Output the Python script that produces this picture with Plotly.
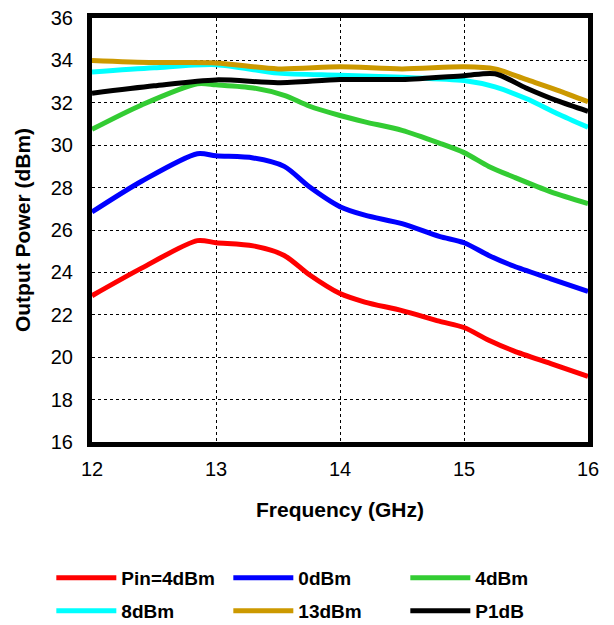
import plotly.graph_objects as go

names = ["Pin=4dBm", "0dBm", "4dBm", "8dBm", "13dBm", "P1dB"]
colors = ["#ff0000", "#0000ff", "#33cc33", "#00ffff", "#cc9900", "#000000"]

freq_a = [12.0, 12.4, 12.85, 13.0, 13.3, 13.55, 13.75, 14.0, 14.2, 14.5, 14.8, 15.0, 15.2, 15.4, 15.7, 16.0]
pin_m4 = [22.9, 24.2, 25.5, 25.4, 25.25, 24.8, 23.9, 23.0, 22.6, 22.2, 21.7, 21.4, 20.8, 20.3, 19.7, 19.1]
pin_0 = [26.85, 28.3, 29.6, 29.5, 29.4, 29.0, 28.05, 27.1, 26.7, 26.3, 25.7, 25.4, 24.8, 24.3, 23.7, 23.1]
pin_4 = [30.75, 31.9, 32.9, 32.85, 32.7, 32.35, 31.85, 31.4, 31.1, 30.7, 30.1, 29.65, 29.0, 28.5, 27.8, 27.25]

freq_b = [12.0, 12.5, 13.0, 13.5, 14.0, 14.5, 15.0, 15.25, 15.5, 15.75, 16.0]
pin_8 = [33.45, 33.65, 33.8, 33.4, 33.3, 33.2, 33.05, 32.75, 32.2, 31.5, 30.85]
pin_13 = [34.0, 33.9, 33.88, 33.6, 33.7, 33.6, 33.7, 33.6, 33.1, 32.6, 32.05]
p1db = [32.45, 32.8, 33.08, 32.95, 33.1, 33.1, 33.28, 33.37, 32.7, 32.1, 31.6]

series = [(freq_a, pin_m4), (freq_a, pin_0), (freq_a, pin_4),
          (freq_b, pin_8), (freq_b, pin_13), (freq_b, p1db)]

x_ticks = [12, 13, 14, 15, 16]
y_ticks = [16, 18, 20, 22, 24, 26, 28, 30, 32, 34, 36]

fig = go.Figure()
for i, ((xs, ys), n, c) in enumerate(zip(series, names, colors)):
    fig.add_trace(go.Scatter(x=xs, y=ys, name=n, mode="lines",
                             legend="legend" if i < 3 else "legend2",
                             line=dict(color=c, width=5, shape="spline", smoothing=0.8)))

fnt = "Liberation Sans, Arial, sans-serif"
leg_common = dict(orientation="h", x=-0.082, xanchor="left", yanchor="middle",
                  entrywidth=102, entrywidthmode="pixels", itemwidth=60,
                  font=dict(family=fnt, size=19, color="black", weight="bold"),
                  bgcolor="rgba(0,0,0,0)")
fig.update_layout(
    width=606, height=617,
    margin=dict(l=84, r=26, t=10, b=183, autoexpand=False),
    paper_bgcolor="white", plot_bgcolor="white",
    font=dict(family=fnt, color="black", size=20),
    showlegend=True,
    legend=dict(y=-0.3208, **leg_common),
    legend2=dict(y=-0.3986, **leg_common),
    xaxis=dict(range=[12, 16], tickvals=x_ticks, ticks="outside", ticklen=5,
               tickcolor="rgba(0,0,0,0)", showgrid=True, ticklabeloverflow="allow",
               gridcolor="black", griddash="dot", gridwidth=1,
               showline=True, linecolor="black", linewidth=5, mirror=True,
               zeroline=False, tickfont=dict(size=20), automargin=False,
               title=dict(text="Frequency (GHz)", font=dict(size=21, weight="bold"), standoff=25)),
    yaxis=dict(range=[16, 36], tickvals=y_ticks, ticks="outside", ticklen=10,
               tickcolor="rgba(0,0,0,0)", showgrid=True, ticklabeloverflow="allow",
               gridcolor="black", griddash="dot", gridwidth=1,
               showline=True, linecolor="black", linewidth=5, mirror=True,
               zeroline=False, tickfont=dict(size=20), automargin=False,
               title=dict(text="Output Power (dBm)", font=dict(size=21, weight="bold"), standoff=16)),
)
fig.write_html("out.html")
